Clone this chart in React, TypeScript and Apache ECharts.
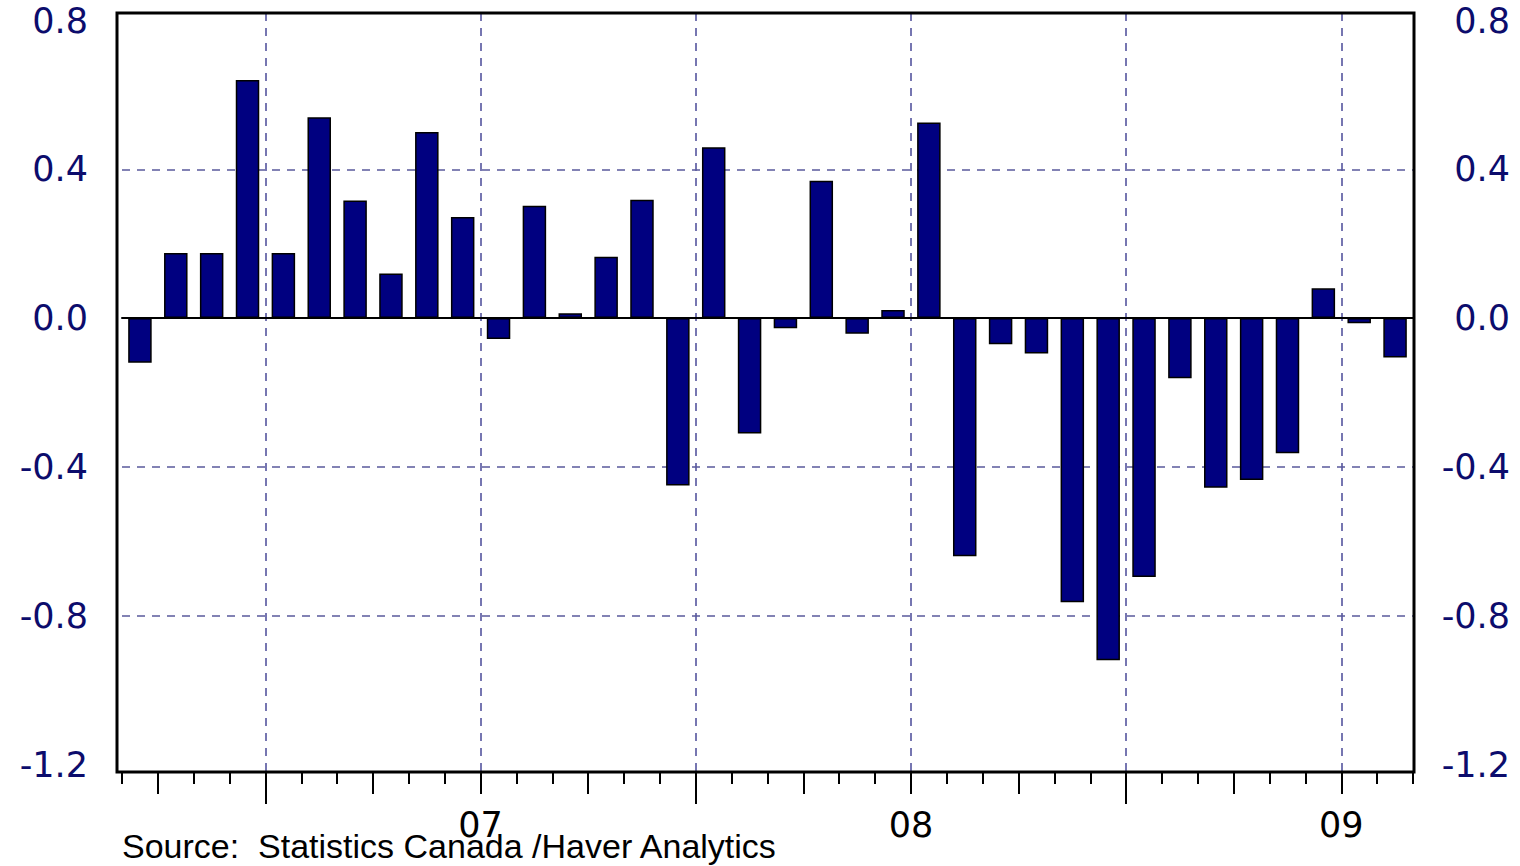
import React, { useEffect, useRef } from "react";
import * as echarts from "echarts";

// Monthly categories (Mar 2006 .. Feb 2009)
const months: string[] = [
  "2006-03", "2006-04", "2006-05", "2006-06", "2006-07", "2006-08",
  "2006-09", "2006-10", "2006-11", "2006-12", "2007-01", "2007-02",
  "2007-03", "2007-04", "2007-05", "2007-06", "2007-07", "2007-08",
  "2007-09", "2007-10", "2007-11", "2007-12", "2008-01", "2008-02",
  "2008-03", "2008-04", "2008-05", "2008-06", "2008-07", "2008-08",
  "2008-09", "2008-10", "2008-11", "2008-12", "2009-01", "2009-02",
];

// Monthly % change values
const values: number[] = [
  -0.12, 0.175, 0.175, 0.64, 0.175, 0.54,
  0.316, 0.12, 0.5, 0.272, -0.056, 0.302,
  0.013, 0.165, 0.318, -0.45, 0.459, -0.31,
  -0.027, 0.369, -0.042, 0.022, 0.526, -0.64,
  -0.07, -0.095, -0.764, -0.92, -0.696, -0.162,
  -0.456, -0.435, -0.363, 0.08, -0.014, -0.106,
];

// Month boundaries used for the tick marks (start of each month + end)
const boundaries: string[] = [...months, "2009-03"];

const yMin = -1.2;
const yMax = 0.8;
const yStep = 0.4;
const gridLevels: number[] = [0.4, -0.4, -0.8];

const sourceText = "Source:  Statistics Canada /Haver Analytics";

const monthNum = (s: string) => parseInt(s.slice(5), 10);
const isJan = (s: string) => monthNum(s) === 1;
const isJul = (s: string) => monthNum(s) === 7;
const isQuarterMid = (s: string) => [1, 4, 10].includes(monthNum(s));

const fmtY = (v: number) => (Math.abs(v) < 1e-9 ? "0.0" : v.toFixed(1));

const NAVY_TEXT = "#0c0c6c";

export default function App() {
  const ref = useRef<HTMLDivElement>(null);

  useEffect(() => {
    if (!ref.current) return;
    const chart = echarts.init(ref.current, undefined, { renderer: "svg" });

    const tickAxisBase = (len: number, pick: (s: string) => boolean) => ({
      type: "category",
      gridIndex: 1,
      data: boundaries,
      boundaryGap: false,
      position: "bottom",
      axisLine: { show: false },
      axisTick: {
        show: true,
        length: len,
        interval: (_i: number, v: string) => pick(v),
        lineStyle: { color: "#000", width: 2 },
      },
      axisLabel: { show: false },
      splitLine: { show: false },
    });

    const option: any = {
      animation: false,
      backgroundColor: "#ffffff",
      grid: [
        { left: 122, right: 107, top: 20.5, height: 744 },
        { left: 122, right: 107, top: 13, height: 759 },
      ],
      xAxis: [
        {
          type: "category",
          gridIndex: 0,
          data: months,
          boundaryGap: true,
          axisLine: { show: true, onZero: true, lineStyle: { color: "#000", width: 2 } },
          axisTick: { show: false },
          axisLabel: { show: false },
          splitLine: { show: false },
          z: 3,
        },
        {
          ...tickAxisBase(12, () => true),
          splitLine: {
            show: true,
            interval: (_i: number, v: string) => isJan(v) || isJul(v),
            lineStyle: { color: "#4a4a98", width: 1.5, type: [8, 7] },
          },
        },
        {
          ...tickAxisBase(22, isQuarterMid),
          axisLabel: {
            show: true,
            interval: (_i: number, v: string) => isJan(v),
            formatter: (v: string) => (isJan(v) ? v.slice(2, 4) : ""),
            color: "#000",
            fontFamily: "'DejaVu Sans'",
            fontSize: 35,
            margin: 35,
          },
        },
        tickAxisBase(32, isJul),
      ],
      yAxis: [
        {
          type: "value",
          gridIndex: 0,
          position: "left",
          min: yMin,
          max: yMax,
          interval: yStep,
          axisLine: { show: false },
          axisTick: { show: false },
          splitLine: { show: false },
          axisLabel: {
            formatter: fmtY,
            color: NAVY_TEXT,
            fontFamily: "'DejaVu Sans'",
            fontSize: 35,
            margin: 34,
            padding: [8, 0, 0, 0],
          },
        },
        {
          type: "value",
          gridIndex: 0,
          position: "right",
          min: yMin,
          max: yMax,
          interval: yStep,
          axisLine: { show: false },
          axisTick: { show: false },
          splitLine: { show: false },
          axisLabel: {
            formatter: fmtY,
            color: NAVY_TEXT,
            fontFamily: "'DejaVu Sans'",
            fontSize: 35,
            align: "right",
            margin: 97,
            padding: [8, 0, 0, 0],
          },
        },
        { type: "value", gridIndex: 1, show: false, min: 0, max: 1 },
      ],
      series: [
        {
          type: "bar",
          xAxisIndex: 0,
          yAxisIndex: 0,
          data: values,
          barWidth: 23.5,
          z: 2,
          itemStyle: { color: "#000080", borderColor: "#000000", borderWidth: 1.5 },
          markLine: {
            silent: true,
            symbol: "none",
            z: 1,
            label: { show: false },
            lineStyle: { color: "#5a5a9c", width: 1.5, type: [8, 7] },
            data: gridLevels.map((v) => ({ yAxis: v })),
          },
        },
      ],
      graphic: [
        {
          type: "rect",
          z: 100,
          shape: { x: 117, y: 13, width: 1297, height: 759 },
          style: { fill: "none", stroke: "#000", lineWidth: 3 },
        },
        {
          type: "text",
          z: 100,
          x: 122,
          y: 846,
          style: {
            text: sourceText,
            fill: "#000",
            font: "34px 'Liberation Sans', Arial, sans-serif",
            textAlign: "left",
            textVerticalAlign: "middle",
          },
        },
      ],
    };

    chart.setOption(option);
    return () => chart.dispose();
  }, []);

  return (
    <div
      ref={ref}
      style={{ position: "fixed", left: 0, top: 0, width: 1520, height: 866, background: "#fff" }}
    />
  );
}
